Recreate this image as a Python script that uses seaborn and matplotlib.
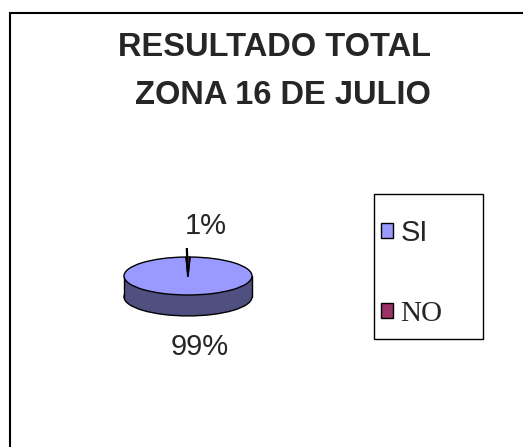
import matplotlib
matplotlib.use("Agg")
import matplotlib.pyplot as plt
import seaborn as sns
from matplotlib.patches import Rectangle

# datos
categorias = ["SI", "NO"]
valores = [99, 1]
etiquetas = ["99%", "1%"]

sns.set_style("white")
plt.rcParams['font.family'] = ['Liberation Sans', 'DejaVu Sans']

colores = ["#9999FF", "#993366"]
colores_lado = ["#4F4F80", "#4D1A33"]

W, H = 523, 447
fig = plt.figure(figsize=(W / 100, H / 100), dpi=100)
fig.patch.set_facecolor("white")

# marco exterior
fig.patches.append(Rectangle((10 / W, -0.1), 1.2, 1.1 - 13 / H, transform=fig.transFigure,
                             fill=False, edgecolor="#000000", linewidth=1.5))

# titulo
fig.text(275 / W, 1 - 48 / H, "RESULTADO TOTAL", ha="center", va="center",
         fontsize=23.5, fontweight="bold")
fig.text(283 / W, 1 - 95 / H, "ZONA 16 DE JULIO", ha="center", va="center",
         fontsize=23.5, fontweight="bold")

# pastel 3D aplanado
cx, cy, rx, ry = 188, 276, 64, 19
xmin, xmax = -1.1, 1.1
ymin, ymax = -3.0, 1.5
ax_w = rx * (xmax - xmin)
ax_h = ry * (ymax - ymin)
left = cx + xmin * rx
top = cy - ymax * ry
ax = fig.add_axes([left / W, 1 - (top + ax_h) / H, ax_w / W, ax_h / H])

prof = 1.1
start = 90 + 360 * valores[1] / sum(valores) / 2
ax.pie(valores, colors=colores_lado, startangle=start, center=(0, -prof),
       wedgeprops=dict(edgecolor="black", linewidth=1.0))
ax.fill_between([-1, 1], -prof, 0, color=colores_lado[0], linewidth=0, zorder=2)
ax.plot([-1, -1], [-prof, 0], color="black", lw=1.0, zorder=2.5)
ax.plot([1, 1], [-prof, 0], color="black", lw=1.0, zorder=2.5)
cuñas, _ = ax.pie(valores, colors=colores, startangle=start,
                  wedgeprops=dict(edgecolor="black", linewidth=1.0))
for c in cuñas:
    c.set_zorder(3)

ax.set_aspect("auto")
ax.set_xlim(xmin, xmax)
ax.set_ylim(ymin, ymax)
ax.axis("off")

# linea guia y etiquetas
ax.plot([0, -0.02], [0, 1.58], color="black", lw=1.6, zorder=4)
ax.text(0.27, (cy - 226) / ry, etiquetas[1], ha="center", va="center", fontsize=21)
ax.text(0.19, -(347 - cy) / ry, etiquetas[0], ha="center", va="center", fontsize=21)

# leyenda
fig.patches.append(Rectangle((374 / W, 1 - 339 / H), 109 / W, 145 / H, transform=fig.transFigure,
                             fill=False, edgecolor="black", linewidth=1.0))
leg = fig.legend(cuñas, categorias, loc="upper left",
                 bbox_to_anchor=(381 / W, 1 - 219 / H), bbox_transform=fig.transFigure,
                 fontsize=21, frameon=False,
                 handlelength=0.42, handleheight=0.42, handletextpad=0.25,
                 labelspacing=1.85, borderpad=0, borderaxespad=0)
leg.get_texts()[1].set_fontfamily("Liberation Serif")

fig.savefig("out.png", dpi=100)
